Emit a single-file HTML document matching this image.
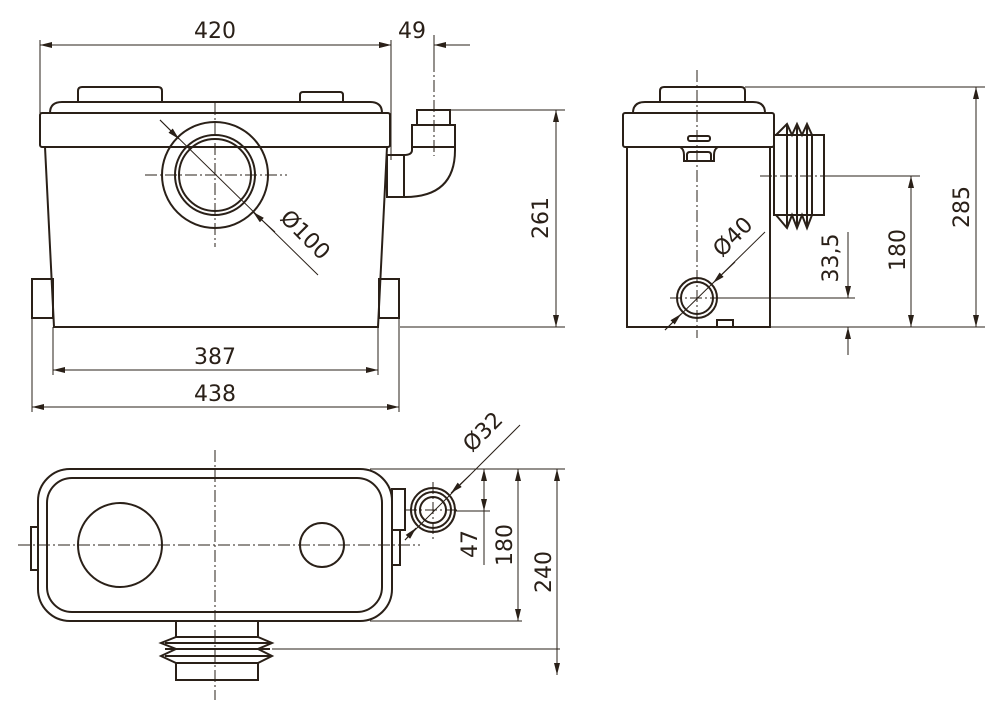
<!DOCTYPE html>
<html><head><meta charset="utf-8"><style>
html,body{margin:0;padding:0;background:#fff}
svg{display:block}
text{font-family:"DejaVu Sans","Liberation Sans",sans-serif;font-size:22px;fill:#2a2018}
</style></head><body>
<svg width="1000" height="714" viewBox="0 0 1000 714" xmlns="http://www.w3.org/2000/svg">
<defs>
<marker id="a" viewBox="0 0 12 6" refX="12" refY="3" markerWidth="12" markerHeight="6" orient="auto-start-reverse" markerUnits="userSpaceOnUse"><path d="M0,0 L12,3 L0,6 z" fill="#2a2018"/></marker>
</defs>
<g fill="none" stroke="#2a2018" stroke-width="2">
<!-- FRONT VIEW -->
<path d="M78,102 V91 q0,-4 4,-4 H158 q4,0 4,4 V102"/>
<path d="M300,102 V95 q0,-3 3,-3 H340 q3,0 3,3 V102"/>
<path d="M50,113 q0,-11 12,-11 H370 q12,0 12,11"/>
<rect x="40" y="113" width="350" height="34" rx="2"/>
<path d="M45,147 L54,327 H378 L387,147"/>
<rect x="32" y="279" width="21" height="39"/>
<rect x="379" y="279" width="20" height="39"/>
<circle cx="215" cy="175" r="53"/>
<circle cx="215" cy="175" r="40"/>
<circle cx="215" cy="175" r="36"/>
<rect x="417" y="110" width="33" height="15"/>
<rect x="412" y="125" width="43" height="22"/>
<path d="M455,147 V150 Q455,197 405,197"/>
<path d="M412,147 V150 Q412,155 404,155"/>
<rect x="387" y="155" width="17" height="42"/>
<!-- SIDE VIEW -->
<path d="M660,102 V91 q0,-4 4,-4 H741 q4,0 4,4 V102"/>
<path d="M633,113 q0,-11 12,-11 H753 q12,0 12,11"/>
<rect x="623" y="113" width="151" height="34" rx="2"/>
<path d="M627,147 V327 H770 V147"/>
<rect x="688" y="136" width="22" height="5" rx="2"/>
<path d="M680,147 q4,2 4,8 v6 h30 v-6 q0,-6 4,-8"/>
<path d="M687,161 v-6 q0,-3 3,-3 h18 q3,0 3,3 v6"/>
<rect x="717" y="320" width="16" height="7"/>
<circle cx="697" cy="298" r="20"/>
<circle cx="697" cy="298" r="16"/>
<rect x="774" y="135" width="50" height="80"/>
<path d="M776,135 L787,124 L792,135 L797,124 L802,135 L807,124 L812,135 V215 L807,228 L802,215 L797,228 L792,215 L787,228 L776,215"/>
<line x1="787" y1="124" x2="787" y2="228"/><line x1="797" y1="124" x2="797" y2="228"/><line x1="807" y1="124" x2="807" y2="228"/>
<!-- TOP VIEW -->
<rect x="38" y="469" width="354" height="152" rx="32"/>
<rect x="47" y="478" width="335" height="134" rx="25"/>
<circle cx="120" cy="545" r="42"/>
<circle cx="322" cy="545" r="22"/>
<rect x="31" y="527" width="7" height="43"/>
<rect x="392" y="489" width="13" height="41"/>
<rect x="392" y="530" width="8" height="35"/>
<circle cx="433" cy="510" r="22"/>
<circle cx="433" cy="510" r="18"/>
<circle cx="433" cy="510" r="13"/>
<rect x="176" y="621" width="82" height="16"/>
<path d="M176,637 L161,643 L176,649 L161,656 L176,663 M258,637 L272,643 L258,649 L272,656 L258,663"/>
<line x1="165" y1="643" x2="270" y2="643"/><line x1="165" y1="649" x2="270" y2="649"/><line x1="165" y1="656" x2="270" y2="656"/>
<rect x="176" y="663" width="82" height="17"/>
</g>
<!-- center lines -->
<g stroke="#2a2018" stroke-width="1" stroke-dasharray="12,3,2,3" fill="none">
<line x1="215" y1="103" x2="215" y2="247"/><line x1="145" y1="175" x2="287" y2="175"/>
<line x1="434" y1="60" x2="434" y2="156"/>
<line x1="697" y1="70" x2="697" y2="338"/><line x1="760" y1="176" x2="830" y2="176"/>
<line x1="670" y1="298" x2="720" y2="298"/>
<line x1="215" y1="450" x2="215" y2="700"/><line x1="18" y1="545" x2="420" y2="545"/>
<line x1="433" y1="482" x2="433" y2="540"/><line x1="405" y1="510" x2="460" y2="510"/>
</g>
<!-- dims -->
<g stroke="#2a2018" stroke-width="1" fill="none">
<line x1="40" y1="40" x2="40" y2="113"/><line x1="391" y1="40" x2="391" y2="160"/>
<line x1="40" y1="45" x2="391" y2="45" marker-start="url(#a)" marker-end="url(#a)"/>
<line x1="370" y1="45" x2="391" y2="45" marker-end="url(#a)"/>
<line x1="470" y1="45" x2="434" y2="45" marker-end="url(#a)"/>
<line x1="434" y1="35" x2="434" y2="60"/>
<line x1="450" y1="110" x2="565" y2="110"/><line x1="400" y1="327" x2="565" y2="327"/>
<line x1="556" y1="110" x2="556" y2="327" marker-start="url(#a)" marker-end="url(#a)"/>
<line x1="53" y1="327" x2="53" y2="375"/><line x1="378" y1="327" x2="378" y2="375"/>
<line x1="53" y1="370" x2="378" y2="370" marker-start="url(#a)" marker-end="url(#a)"/>
<line x1="32" y1="318" x2="32" y2="412"/><line x1="399" y1="318" x2="399" y2="412"/>
<line x1="32" y1="407" x2="399" y2="407" marker-start="url(#a)" marker-end="url(#a)"/>
<line x1="160" y1="120" x2="318" y2="275"/>
<line x1="160" y1="120" x2="179" y2="139" marker-end="url(#a)"/>
<line x1="275" y1="232" x2="253" y2="212" marker-end="url(#a)"/>
<!-- side -->
<line x1="745" y1="87" x2="985" y2="87"/><line x1="770" y1="327" x2="985" y2="327"/>
<line x1="976" y1="87" x2="976" y2="327" marker-start="url(#a)" marker-end="url(#a)"/>
<line x1="830" y1="176" x2="920" y2="176"/>
<line x1="911" y1="176" x2="911" y2="327" marker-start="url(#a)" marker-end="url(#a)"/>
<line x1="720" y1="298" x2="855" y2="298"/>
<line x1="848" y1="232" x2="848" y2="298" marker-end="url(#a)"/>
<line x1="848" y1="355" x2="848" y2="327" marker-end="url(#a)"/>
<line x1="665" y1="330" x2="765" y2="232"/>
<line x1="665" y1="330" x2="681" y2="314" marker-end="url(#a)"/>
<line x1="735" y1="262" x2="713" y2="283" marker-end="url(#a)"/>
<!-- top -->
<line x1="370" y1="469" x2="565" y2="469"/>
<line x1="455" y1="511" x2="490" y2="511"/>
<line x1="484" y1="469" x2="484" y2="511" marker-start="url(#a)" marker-end="url(#a)"/>
<line x1="484" y1="511" x2="484" y2="565"/>
<line x1="370" y1="621" x2="522" y2="621"/>
<line x1="518" y1="469" x2="518" y2="621" marker-start="url(#a)" marker-end="url(#a)"/>
<line x1="272" y1="649" x2="560" y2="649"/>
<line x1="557" y1="469" x2="557" y2="675" marker-start="url(#a)" marker-end="url(#a)"/>
<line x1="520" y1="425" x2="405" y2="540"/>
<line x1="470" y1="475" x2="451" y2="493" marker-end="url(#a)"/>
<line x1="405" y1="540" x2="416" y2="528" marker-end="url(#a)"/>
</g>
<g>
<text x="215" y="38" text-anchor="middle">420</text>
<text x="412" y="38" text-anchor="middle">49</text>
<text x="215" y="364" text-anchor="middle">387</text>
<text x="215" y="401" text-anchor="middle">438</text>
<text transform="translate(548,218) rotate(-90)" text-anchor="middle">261</text>
<text transform="translate(300,240) rotate(45)" text-anchor="middle">Ø100</text>
<text transform="translate(738,242) rotate(-45)" text-anchor="middle">Ø40</text>
<text transform="translate(838,258) rotate(-90)" text-anchor="middle">33,5</text>
<text transform="translate(905,250) rotate(-90)" text-anchor="middle">180</text>
<text transform="translate(969,207) rotate(-90)" text-anchor="middle">285</text>
<text transform="translate(488,437) rotate(-45)" text-anchor="middle">Ø32</text>
<text transform="translate(477,544) rotate(-90)" text-anchor="middle">47</text>
<text transform="translate(512,545) rotate(-90)" text-anchor="middle">180</text>
<text transform="translate(551,572) rotate(-90)" text-anchor="middle">240</text>
</g>
</svg>
</body></html>
